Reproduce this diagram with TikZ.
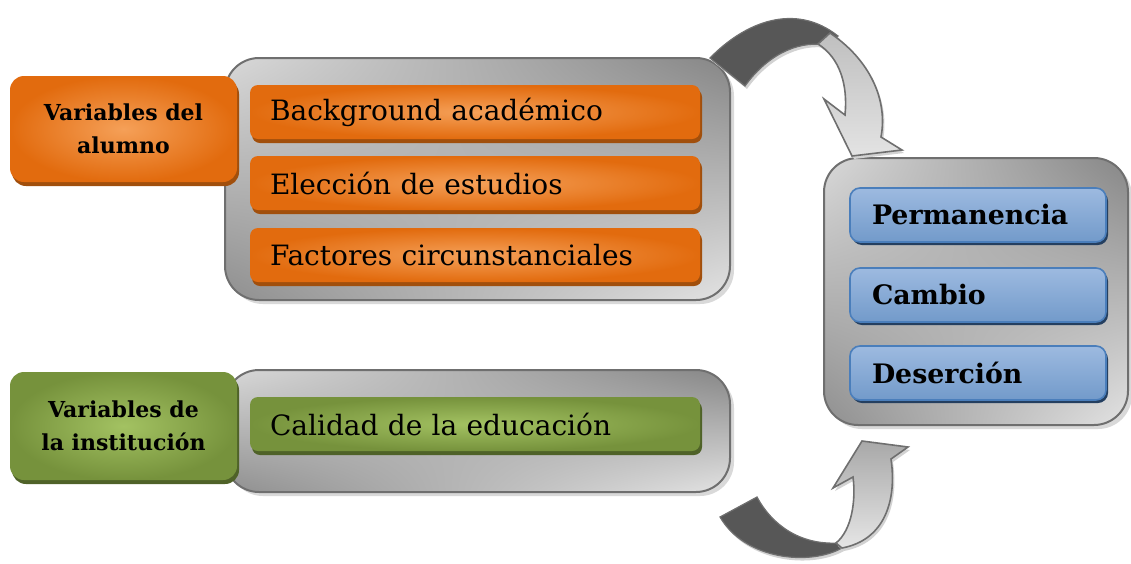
\documentclass[tikz,border=0pt]{standalone}
\usepackage{fontspec}
\setmainfont{DejaVu Serif}
\usepackage{tikz}
\usetikzlibrary{shadows,shadings,positioning}

\definecolor{naranja}{HTML}{E26B0E}
\definecolor{naranjaclaro}{HTML}{F5A058}
\definecolor{naranjaosc}{HTML}{A14F0C}
\definecolor{verde}{HTML}{76923C}
\definecolor{verdeclaro}{HTML}{A3C262}
\definecolor{verdeosc}{HTML}{4F6228}
\definecolor{azul}{HTML}{4F81BD}
\definecolor{azulclaro}{HTML}{9DBAE0}
\definecolor{azulborde}{HTML}{4A7EBB}
\definecolor{azulosc}{HTML}{243F60}
\definecolor{gris}{HTML}{6F6F6F}
\definecolor{grisosc}{HTML}{575757}

\tikzset{
  panel/.style={draw=gris, line width=1pt, rounded corners=17pt,
    upper left=gray!30, upper right=gray!95,
    lower left=gray!88, lower right=gray!22,
    general shadow={fill=gray!30, shadow xshift=2pt, shadow yshift=-2pt}},
  titulo/.style={rounded corners=7pt, minimum width=113.5pt, align=center,
    font=\fontsize{11}{16.5}\selectfont\bfseries},
  barra/.style={rounded corners=4pt, text width=205pt, inner xsep=10pt,
    minimum height=27pt, align=left, font=\fontsize{14}{17}\selectfont},
  nar/.style={inner color=naranjaclaro, outer color=naranja,
    general shadow={fill=naranjaosc, shadow xshift=1pt, shadow yshift=-2pt}},
  ver/.style={inner color=verdeclaro, outer color=verde,
    general shadow={fill=verdeosc, shadow xshift=1pt, shadow yshift=-2pt}},
  resultado/.style={draw=azulborde, line width=0.8pt, rounded corners=5pt,
    top color=azulclaro, middle color=azul, bottom color=azul!80!white,
    text width=106pt, inner xsep=11pt, minimum height=27pt, align=left,
    font=\fontsize{13.4}{16}\selectfont\bfseries,
    general shadow={fill=azulosc, shadow xshift=1pt, shadow yshift=-1.5pt}},
  flechaosc/.style={draw=gris, line width=0.6pt, fill=grisosc,
    general shadow={fill=gray!35, shadow xshift=1pt, shadow yshift=-1.5pt}},
  flechaclara/.style={draw=gris, line width=0.8pt,
    general shadow={fill=gray!35, shadow xshift=1pt, shadow yshift=-1.5pt}},
}

\begin{document}
\begin{tikzpicture}[x=0.5pt,y=-0.5pt]
  \useasboundingbox (0,0) rectangle (1131,563);

  % paneles grises
  \draw[panel] (225,58) rectangle (730,300);
  \draw[panel] (225,370) rectangle (730,492);
  \draw[panel] (824,158) rectangle (1128,425);

  % variables del alumno
  \node[titulo, nar, minimum height=53pt] (alumno) at (123.5,129)
    {Variables del\\alumno};
  \node[barra, nar] (background) at (475,112) {Background académico};
  \node[barra, nar] (eleccion) at (475,183) {Elección de estudios};
  \node[barra, nar] (factores) at (475,255) {Factores circunstanciales};

  % variables de la institucion
  \node[titulo, ver, minimum height=54pt] (institucion) at (123.5,426)
    {Variables de\\la institución};
  \node[barra, ver] (calidad) at (475,424) {Calidad de la educación};

  % resultados
  \node[resultado] (permanencia) at (978,215) {Permanencia};
  \node[resultado] (cambio) at (978,295) {Cambio};
  \node[resultado] (desercion) at (978,373) {Deserción};

  % flecha superior
  \draw[flechaosc] (710,58) .. controls (745,22) and (795,2) .. (838,36)
    -- (826,45) .. controls (795,40) and (765,58) .. (745,86) -- cycle;
  \draw[flechaclara, top color=gray!50, bottom color=gray!22]
    (830,33) .. controls (870,60) and (888,100) .. (881,137)
    -- (902,150) -- (852,156) -- (824,99) -- (845,115)
    .. controls (848,85) and (840,58) .. (818,44) -- cycle;

  % flecha inferior
  \draw[flechaosc] (720,517) -- (757,497) .. controls (772,525) and (800,545) .. (838,543)
    -- (842,548) .. controls (810,566) and (745,560) .. (720,517) -- cycle;
  \draw[flechaclara, top color=gray!68, bottom color=gray!20]
    (836,543) .. controls (852,530) and (856,500) .. (853,477)
    -- (833,488) -- (862,441) -- (908,447) -- (891,459)
    .. controls (897,500) and (885,540) .. (842,548) -- cycle;
\end{tikzpicture}
\end{document}
